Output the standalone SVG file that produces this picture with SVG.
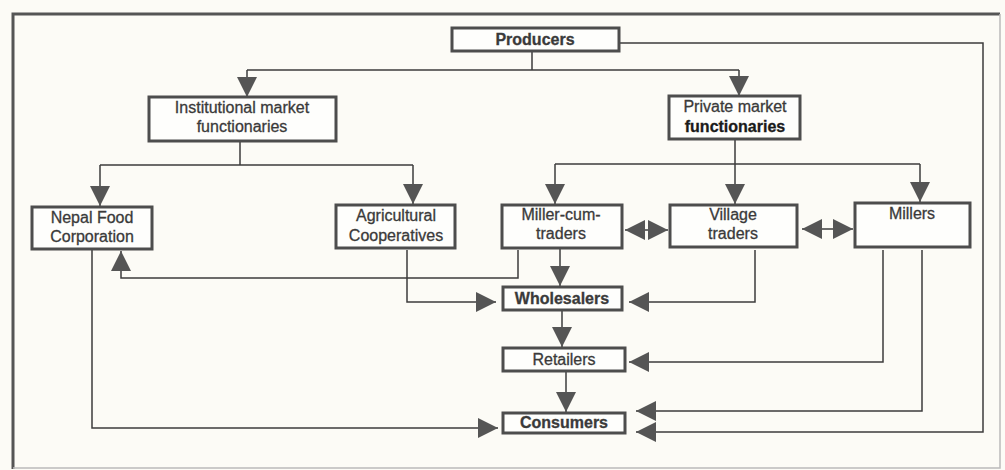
<svg xmlns="http://www.w3.org/2000/svg" width="1005" height="470" viewBox="0 0 1005 470">
<style>
.bg{fill:#fcfbf6}
.frame{fill:none;stroke:#555;stroke-width:3}
.frame2{fill:none;stroke:#bbb;stroke-width:1.5}
.box{fill:#fefefc;stroke:#4d4d4d;stroke-width:3}
.t{font-family:"Liberation Sans",Arial,sans-serif;font-size:16px;fill:#3a3a3a;stroke:#3a3a3a;stroke-width:0.3;text-anchor:middle}
.b{font-weight:bold}
.k{fill:#1a1a1a;stroke:#1a1a1a}
.c{fill:none;stroke:#3d3d3d;stroke-width:1.5}
</style>
<defs>
<marker id="ah" viewBox="0 0 20 20" refX="20" refY="10" markerWidth="20" markerHeight="20" markerUnits="userSpaceOnUse" orient="auto-start-reverse">
<path d="M0,0 L20,10 L0,20 z" fill="#555"/>
</marker>
</defs>
<rect class="bg" x="0" y="0" width="1005" height="470"/>
<path class="frame" d="M13,469 V14 H1000"/>
<path class="frame2" d="M1000,14 V468 H13"/>

<g id="connectors">
<path class="c" d="M532,51 V70 M247,70 H739"/>
<path class="c" d="M247,70 V97" marker-end="url(#ah)"/>
<path class="c" d="M739,70 V96" marker-end="url(#ah)"/>
<path class="c" d="M619,43 H983 V432 H636" marker-end="url(#ah)"/>
<path class="c" d="M240,141 V165 M100,165 H413"/>
<path class="c" d="M100,165 V206" marker-end="url(#ah)"/>
<path class="c" d="M413,165 V204" marker-end="url(#ah)"/>
<path class="c" d="M735,139 V164 M555,164 H920"/>
<path class="c" d="M555,164 V204" marker-end="url(#ah)"/>
<path class="c" d="M735,164 V204" marker-end="url(#ah)"/>
<path class="c" d="M920,164 V202" marker-end="url(#ah)"/>
<path class="c" d="M625,230 H668" marker-start="url(#ah)" marker-end="url(#ah)"/>
<path class="c" d="M802,229 H853" marker-start="url(#ah)" marker-end="url(#ah)"/>
<path class="c" d="M560,248 V286" marker-end="url(#ah)"/>
<path class="c" d="M518,250 V278 H121 V251" marker-end="url(#ah)"/>
<path class="c" d="M407,250 V302 H496" marker-end="url(#ah)"/>
<path class="c" d="M755,250 V302 H629" marker-end="url(#ah)"/>
<path class="c" d="M562,310 V347" marker-end="url(#ah)"/>
<path class="c" d="M883,250 V362 H629" marker-end="url(#ah)"/>
<path class="c" d="M922,250 V411 H636" marker-end="url(#ah)"/>
<path class="c" d="M566,371 V412" marker-end="url(#ah)"/>
<path class="c" d="M92,249 V428 H498" marker-end="url(#ah)"/>
</g>

<g id="producers">
<rect class="box" x="452" y="28" width="167" height="23"/>
<text class="t b" x="535" y="45">Producers</text>
</g>
<g id="institutional">
<rect class="box" x="149" y="97" width="187" height="44"/>
<text class="t" x="242" y="113">Institutional market</text>
<text class="t" x="242" y="132">functionaries</text>
</g>
<g id="private">
<rect class="box" x="669" y="96" width="131" height="43"/>
<text class="t" x="735" y="112">Private market</text>
<text class="t b k" x="735" y="132">functionaries</text>
</g>
<g id="nepal-food">
<rect class="box" x="32" y="207" width="120" height="42"/>
<text class="t" x="92" y="223">Nepal Food</text>
<text class="t" x="92" y="242">Corporation</text>
</g>
<g id="agri-coop">
<rect class="box" x="336" y="205" width="119" height="43"/>
<text class="t" x="396" y="221">Agricultural</text>
<text class="t" x="396" y="241">Cooperatives</text>
</g>
<g id="miller-cum-traders">
<rect class="box" x="502" y="205" width="120" height="43"/>
<text class="t" x="561" y="220">Miller-cum-</text>
<text class="t" x="561" y="239">traders</text>
</g>
<g id="village-traders">
<rect class="box" x="670" y="205" width="127" height="42"/>
<text class="t" x="733" y="220">Village</text>
<text class="t" x="733" y="239">traders</text>
</g>
<g id="millers">
<rect class="box" x="855" y="203" width="115" height="44"/>
<text class="t" x="912" y="219">Millers</text>
</g>
<g id="wholesalers">
<rect class="box" x="503" y="287" width="119" height="23"/>
<text class="t b" x="562" y="304">Wholesalers</text>
</g>
<g id="retailers">
<rect class="box" x="503" y="348" width="122" height="23"/>
<text class="t" x="564" y="365">Retailers</text>
</g>
<g id="consumers">
<rect class="box" x="503" y="413" width="122" height="20"/>
<text class="t b" x="564" y="428">Consumers</text>
</g>
</svg>
